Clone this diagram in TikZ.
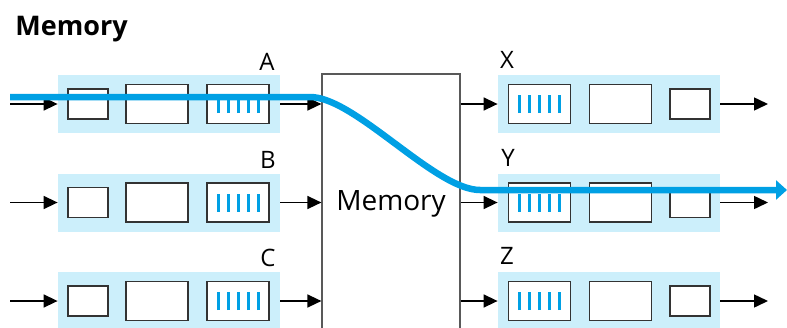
\documentclass[tikz,border=0pt]{standalone}
\usepackage{fontspec}
\setmainfont{Open Sans}
\usetikzlibrary{arrows.meta}
\definecolor{qblue}{RGB}{0,160,228}
\definecolor{qband}{RGB}{204,239,251}

\begin{document}
\begin{tikzpicture}[x=0.5pt, y=-0.5pt,
    band/.style={fill=qband, minimum width=111pt, minimum height=29pt, inner sep=0pt},
    box/.style={draw=black!80, fill=white, line width=0.8pt, inner sep=0pt},
    hdr/.style={box, minimum width=20pt, minimum height=15pt},
    pay/.style={box, minimum width=31pt, minimum height=19.5pt},
    buf/.style={pay, path picture={
        \foreach \i in {-10,-5,0,5,10}
          \draw[qblue, line width=1.5pt]
            ([xshift=\i pt, yshift=-4.5pt]path picture bounding box.center) --
            ([xshift=\i pt, yshift=4.5pt]path picture bounding box.center);}},
    lbl/.style={font=\fontsize{12}{14}\selectfont, inner sep=0pt},
    arr/.style={-{Triangle[length=7pt,width=6.5pt]}, line width=0.75pt}]
    \useasboundingbox (0,0) rectangle (787,327);

    \node[anchor=base west, inner sep=0pt, font=\bfseries\fontsize{13.5}{16}\selectfont] (title) at (15,35) {Memory};

    % input ports
    \node[band] (bandA) at (169,104) {};
    \node[hdr] (hA) at (88,104) {};
    \node[pay] (pA) at (157,104) {};
    \node[buf] (qA) at (238,104) {};
    \node[lbl] (labA) at (267,62) {A};

    \node[band] (bandB) at (169,202.5) {};
    \node[hdr] (hB) at (88,202.5) {};
    \node[pay] (pB) at (157,202.5) {};
    \node[buf] (qB) at (238,202.5) {};
    \node[lbl] (labB) at (268,160) {B};

    \node[band] (bandC) at (169,301) {};
    \node[hdr] (hC) at (88,301) {};
    \node[pay] (pC) at (157,301) {};
    \node[buf] (qC) at (238,301) {};
    \node[lbl] (labC) at (268,258) {C};

    % output ports
    \node[band] (bandX) at (609,104) {};
    \node[buf] (qX) at (539.5,104) {};
    \node[pay] (pX) at (620.5,104) {};
    \node[hdr] (hX) at (690,104) {};
    \node[lbl] (labX) at (507,60) {X};

    \node[band] (bandY) at (609,202.5) {};
    \node[buf] (qY) at (539.5,202.5) {};
    \node[pay] (pY) at (620.5,202.5) {};
    \node[hdr] (hY) at (690,202.5) {};
    \node[lbl] (labY) at (508,158) {Y};

    \node[band] (bandZ) at (609,301) {};
    \node[buf] (qZ) at (539.5,301) {};
    \node[pay] (pZ) at (620.5,301) {};
    \node[hdr] (hZ) at (690,301) {};
    \node[lbl] (labZ) at (507,256) {Z};

    \node[draw=black!65, line width=0.6pt, minimum width=69pt, minimum height=130pt,
          font=\fontsize{14}{17}\selectfont] (mem) at (391,204) {Memory};

    \coordinate (inA) at (10,104);
    \coordinate (inB) at (10,202.5);
    \coordinate (inC) at (10,301);
    \coordinate (outX) at (768,104);
    \coordinate (outY) at (768,202.5);
    \coordinate (outZ) at (768,301);

    \draw[arr] (inA) -- (bandA);
    \draw[arr] (inB) -- (bandB);
    \draw[arr] (inC) -- (bandC);
    \draw[arr] (bandA) -- (mem.west |- bandA);
    \draw[arr] (bandB) -- (mem.west |- bandB);
    \draw[arr] (bandC) -- (mem.west |- bandC);
    \draw[arr] (mem.east |- bandX) -- (bandX);
    \draw[arr] (mem.east |- bandY) -- (bandY);
    \draw[arr] (mem.east |- bandZ) -- (bandZ);
    \draw[arr] (bandX) -- (outX);
    \draw[arr] (bandY) -- (outY);
    \draw[arr] (bandZ) -- (outZ);

    % packet path A -> Y
    \coordinate (flowS) at (10,97);
    \coordinate (flowE) at (787,190);
    \draw[qblue, line width=3.25pt, -{Triangle[length=5.5pt,width=9.5pt]}]
      (flowS) -- (310,97) .. controls (355,97) and (435,190) .. (480,190) -- (flowE);
\end{tikzpicture}
\end{document}
